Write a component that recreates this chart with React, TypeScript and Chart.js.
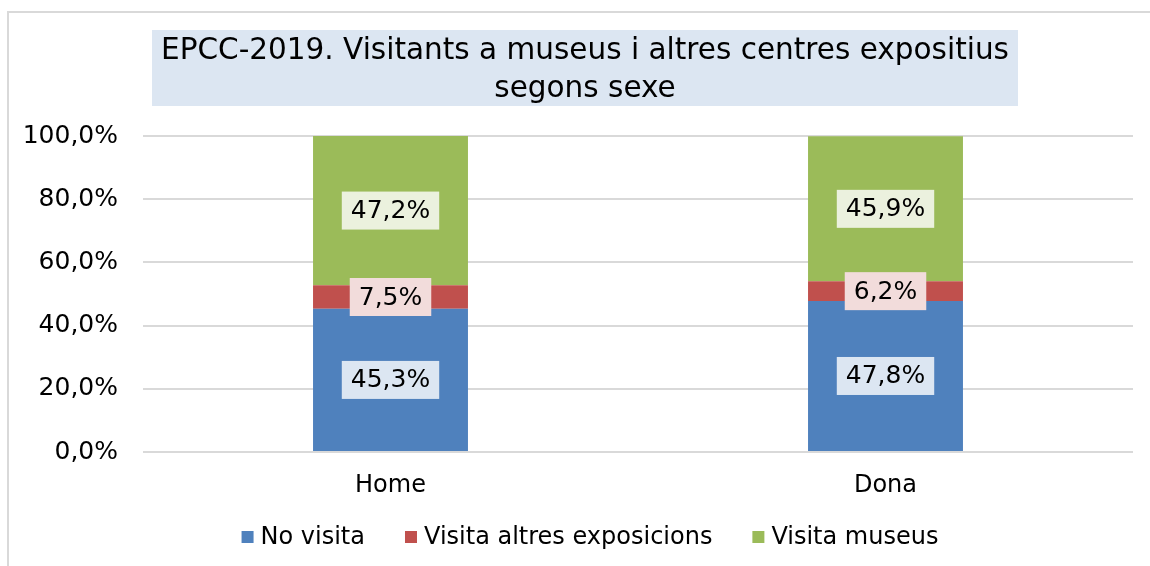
import { useEffect, useRef } from "react";
import { Chart, registerables } from "chart.js";

Chart.register(...registerables);

const categories = ["Home", "Dona"];
const seriesNames = ["No visita", "Visita altres exposicions", "Visita museus"];
const noVisita = [45.3, 47.8];
const altresExposicions = [7.5, 6.2];
const visitaMuseus = [47.2, 45.9];
const titleLines = ["EPCC-2019. Visitants a museus i altres centres expositius", "segons sexe"];

const colors = ["#4F81BD", "#C0504D", "#9BBB59"];
const labelBg = ["#DCE6F2", "#F2DCDB", "#EBF1DE"];
const FONT = "'DejaVu Sans', Verdana, sans-serif";
const fmt = (v: number) => v.toFixed(1).replace(".", ",") + "%";

const framePlugin = {
  id: "frameTitle",
  beforeDraw(chart: any) {
    const ctx = chart.ctx;
    ctx.save();
    ctx.fillStyle = "#ffffff";
    ctx.fillRect(0, 0, chart.width, chart.height);
    ctx.strokeStyle = "#d9d9d9";
    ctx.lineWidth = 2;
    ctx.beginPath();
    ctx.moveTo(8, chart.height);
    ctx.lineTo(8, 12);
    ctx.lineTo(chart.width, 12);
    ctx.stroke();
    // title box
    ctx.fillStyle = "#DCE6F2";
    ctx.fillRect(152, 30, 866, 76);
    ctx.fillStyle = "#000000";
    ctx.font = `29.5px ${FONT}`;
    ctx.textAlign = "center";
    ctx.textBaseline = "middle";
    ctx.fillText(titleLines[0], 585, 51);
    ctx.fillText(titleLines[1], 585, 89);
    ctx.restore();
  },
  afterDraw(chart: any) {
    // legend drawn from the chart's own datasets
    const ctx = chart.ctx;
    ctx.save();
    ctx.font = `24px ${FONT}`;
    ctx.textBaseline = "middle";
    ctx.textAlign = "left";
    const ds = chart.data.datasets;
    const box = 12;
    const gapText = 7;
    const gapItem = 40;
    const widths = ds.map((d: any) => box + gapText + ctx.measureText(d.label).width);
    const total = widths.reduce((a: number, b: number) => a + b, 0) + gapItem * (ds.length - 1);
    let x = 590 - total / 2;
    const cy = 537;
    ds.forEach((d: any, i: number) => {
      ctx.fillStyle = d.backgroundColor;
      ctx.fillRect(x, cy - box / 2, box, box);
      ctx.fillStyle = "#000000";
      ctx.fillText(d.label, x + box + gapText, cy + 1);
      x += widths[i] + gapItem;
    });
    ctx.restore();
  },
};

const labelPlugin = {
  id: "boxLabels",
  afterDatasetsDraw(chart: any) {
    const ctx = chart.ctx;
    ctx.save();
    ctx.font = `25px ${FONT}`;
    ctx.textAlign = "center";
    ctx.textBaseline = "middle";
    chart.data.datasets.forEach((ds: any, i: number) => {
      const meta = chart.getDatasetMeta(i);
      meta.data.forEach((el: any, j: number) => {
        const { x, y, base } = el.getProps(["x", "y", "base"], true);
        const cy = (y + base) / 2;
        const t = fmt(ds.data[j]);
        const w = ctx.measureText(t).width + 18;
        const h = 38;
        ctx.fillStyle = labelBg[i];
        ctx.fillRect(x - w / 2, cy - h / 2, w, h);
        ctx.fillStyle = "#000000";
        ctx.fillText(t, x, cy + 1);
      });
    });
    ctx.restore();
  },
};

export default function App() {
  const ref = useRef<HTMLCanvasElement>(null);
  useEffect(() => {
    if (!ref.current) return;
    const chart = new Chart(ref.current, {
      type: "bar",
      data: {
        labels: categories,
        datasets: [
          { label: seriesNames[0], data: noVisita, backgroundColor: colors[0] },
          { label: seriesNames[1], data: altresExposicions, backgroundColor: colors[1] },
          { label: seriesNames[2], data: visitaMuseus, backgroundColor: colors[2] },
        ],
      },
      options: {
        responsive: false,
        animation: false,
        layout: { padding: { top: 136, left: 0, right: 17, bottom: 0 } },
        datasets: { bar: { barPercentage: 0.313, categoryPercentage: 1 } } as any,
        scales: {
          x: {
            stacked: true,
            afterFit: (scale: any) => {
              scale.height = 114;
            },
            grid: { display: false },
            border: { display: false },
            ticks: { font: { family: FONT, size: 24 }, color: "#000", padding: 11 },
          },
          y: {
            stacked: true,
            min: 0,
            max: 100,
            afterFit: (scale: any) => {
              scale.width = 143;
            },
            grid: { color: "#d9d9d9", lineWidth: 2, drawTicks: false },
            border: { display: false },
            ticks: {
              stepSize: 20,
              padding: 25,
              font: { family: FONT, size: 25 },
              color: "#000",
              callback: (v: any) => fmt(Number(v)),
            },
          },
        },
        plugins: {
          title: { display: false },
          tooltip: { enabled: false },
          legend: { display: false },
        },
      },
      plugins: [framePlugin, labelPlugin],
    });
    return () => chart.destroy();
  }, []);
  return (
    <div style={{ position: "fixed", left: 0, top: 0, width: 1150, height: 566, background: "#fff" }}>
      <canvas ref={ref} width={1150} height={566} style={{ width: 1150, height: 566, display: "block" }} />
    </div>
  );
}
